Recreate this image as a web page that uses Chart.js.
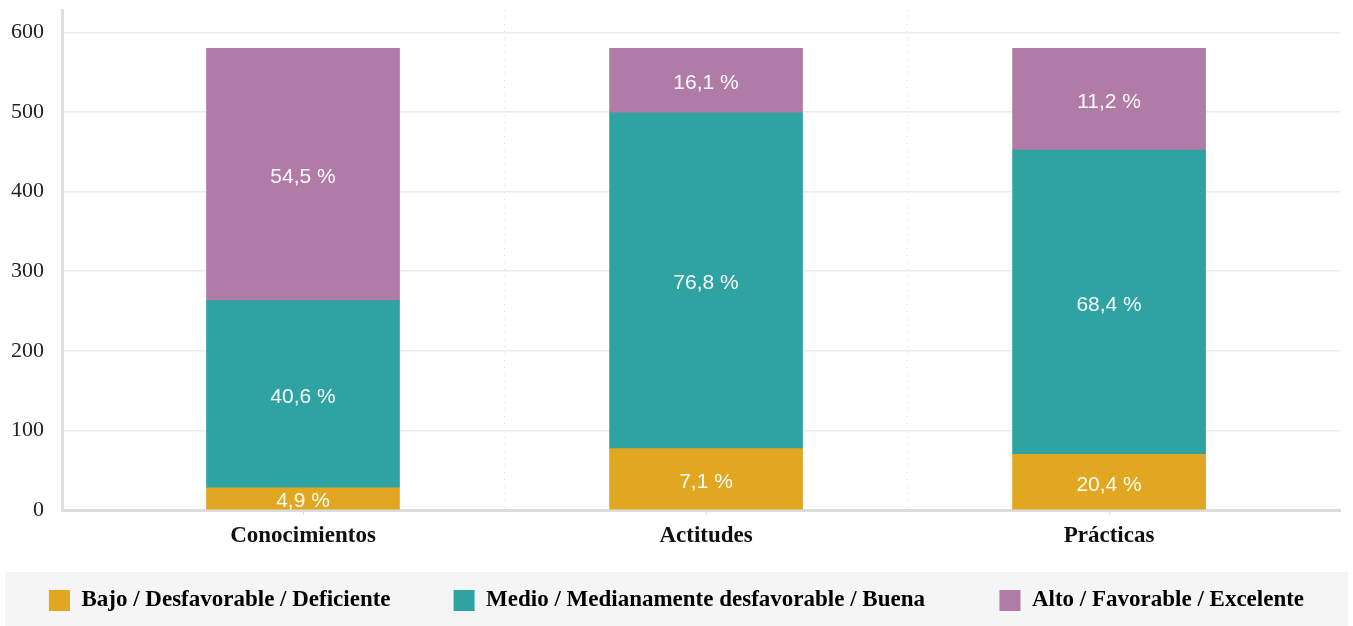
<!DOCTYPE html>
<html>
<head>
<meta charset="utf-8">
<script src="https://cdn.jsdelivr.net/npm/chart.js@4.4.1/dist/chart.umd.min.js"></script>
<style>
  body { margin: 0; background: #fff; }
  #wrap { width: 1353px; height: 626px; }
</style>
</head>
<body>
<div id="wrap"><canvas id="chart1" width="1353" height="626"></canvas></div>
<script>
// datos
const categories = ['Conocimientos', 'Actitudes', 'Prácticas'];
const seriesNames = ['Bajo / Desfavorable / Deficiente', 'Medio / Medianamente desfavorable / Buena', 'Alto / Favorable / Excelente'];
const bajo = [28, 77, 70];
const medio = [235, 422, 382];
const alto = [317, 81, 128];
const bajoPct = ['4,9 %', '7,1 %', '20,4 %'];
const medioPct = ['40,6 %', '76,8 %', '68,4 %'];
const altoPct = ['54,5 %', '16,1 %', '11,2 %'];
const yTicks = [0, 100, 200, 300, 400, 500, 600];

const colors = ['#E2A721', '#2EA3A2', '#B07BA7'];
const legendGap = [8, 10, 0]; // espacios extra entre items

const serifFont = "'Liberation Serif', 'DejaVu Serif', serif";

function toPoints(arr) {
  return arr.map((v, i) => ({ x: i, y: v }));
}

const pctLabels = [bajoPct, medioPct, altoPct];

const barLabels = {
  id: 'barLabels',
  afterDatasetsDraw(chart) {
    const ctx = chart.ctx;
    ctx.save();
    ctx.font = "21px 'Liberation Sans', Arial, sans-serif";
    ctx.fillStyle = 'rgba(255,255,255,0.96)';
    ctx.textAlign = 'center';
    ctx.textBaseline = 'middle';
    chart.data.datasets.forEach((ds, i) => {
      const meta = chart.getDatasetMeta(i);
      meta.data.forEach((bar, j) => {
        const p = bar.getProps(['x', 'y', 'base'], true);
        ctx.fillText(pctLabels[i][j], p.x, (p.y + p.base) / 2 + 3);
      });
    });
    ctx.restore();
  }
};

const legendBg = {
  id: 'legendBg',
  beforeDraw(chart) {
    const ctx = chart.ctx;
    ctx.save();
    ctx.fillStyle = '#f5f5f5';
    ctx.fillRect(5, 572, 1343, 54);
    ctx.restore();
  }
};

const ctx = document.getElementById('chart1');
const myChart = new Chart(ctx, {
  type: 'bar',
  data: {
    datasets: [
      { label: seriesNames[0], data: toPoints(bajo), backgroundColor: colors[0], borderWidth: 0 },
      { label: seriesNames[1], data: toPoints(medio), backgroundColor: colors[1], borderWidth: 0 },
      { label: seriesNames[2], data: toPoints(alto), backgroundColor: colors[2], borderWidth: 0 }
    ]
  },
  options: {
    responsive: false,
    animation: false,
    barThickness: 193,
    layout: { padding: { top: 10, right: 0, left: 0, bottom: 4 } },
    scales: {
      x: {
        type: 'linear',
        stacked: true,
        offset: false,
        min: -0.598,
        max: 2.573,
        afterBuildTicks(scale) {
          scale.ticks = [0, 0.5, 1, 1.5, 2].map(v => ({ value: v }));
        },
        afterFit(scale) {
          scale.height = 62;
          scale.paddingLeft = 0;
          scale.paddingRight = 13;
        },
        ticks: {
          autoSkip: false,
          maxRotation: 0,
          padding: 7,
          color: '#111',
          font: { family: serifFont, size: 23, weight: 'bold' },
          callback: (v) => (Number.isInteger(v) ? categories[v] : '')
        },
        grid: {
          offset: false,
          color: (c) => (c.tick && !Number.isInteger(c.tick.value) ? '#dedede' : 'transparent'),
          tickColor: (c) => (c.tick && Number.isInteger(c.tick.value) ? '#d8dde6' : 'transparent'),
          tickLength: 5,
          lineWidth: 1
        },
        border: { display: true, color: '#dcdcdc', width: 3, dash: [1, 6] }
      },
      y: {
        stacked: true,
        min: 0,
        max: 628,
        afterBuildTicks(scale) {
          scale.ticks = yTicks.map(v => ({ value: v }));
        },
        afterFit(scale) {
          scale.width = 62;
          scale.paddingTop = 0;
          scale.paddingBottom = 0;
        },
        ticks: {
          padding: 18,
          color: '#222',
          font: { family: serifFont, size: 22 }
        },
        grid: { color: '#ececec', lineWidth: 1.5, drawTicks: false },
        border: { display: true, color: '#dde1e7', width: 3 }
      }
    },
    plugins: {
      tooltip: { enabled: false },
      legend: {
        position: 'bottom',
        labels: {
          boxWidth: 21,
          boxHeight: 21,
          padding: 17,
          color: '#111',
          font: { family: serifFont, size: 23, weight: 'bold' },
          generateLabels(chart) {
            return chart.data.datasets.map((ds, i) => ({
              text: ds.label + ' '.repeat(legendGap[i]),
              fillStyle: ds.backgroundColor,
              strokeStyle: ds.backgroundColor,
              lineWidth: 0,
              hidden: false,
              datasetIndex: i
            }));
          }
        }
      }
    }
  },
  plugins: [legendBg, barLabels]
});
</script>
</body>
</html>
